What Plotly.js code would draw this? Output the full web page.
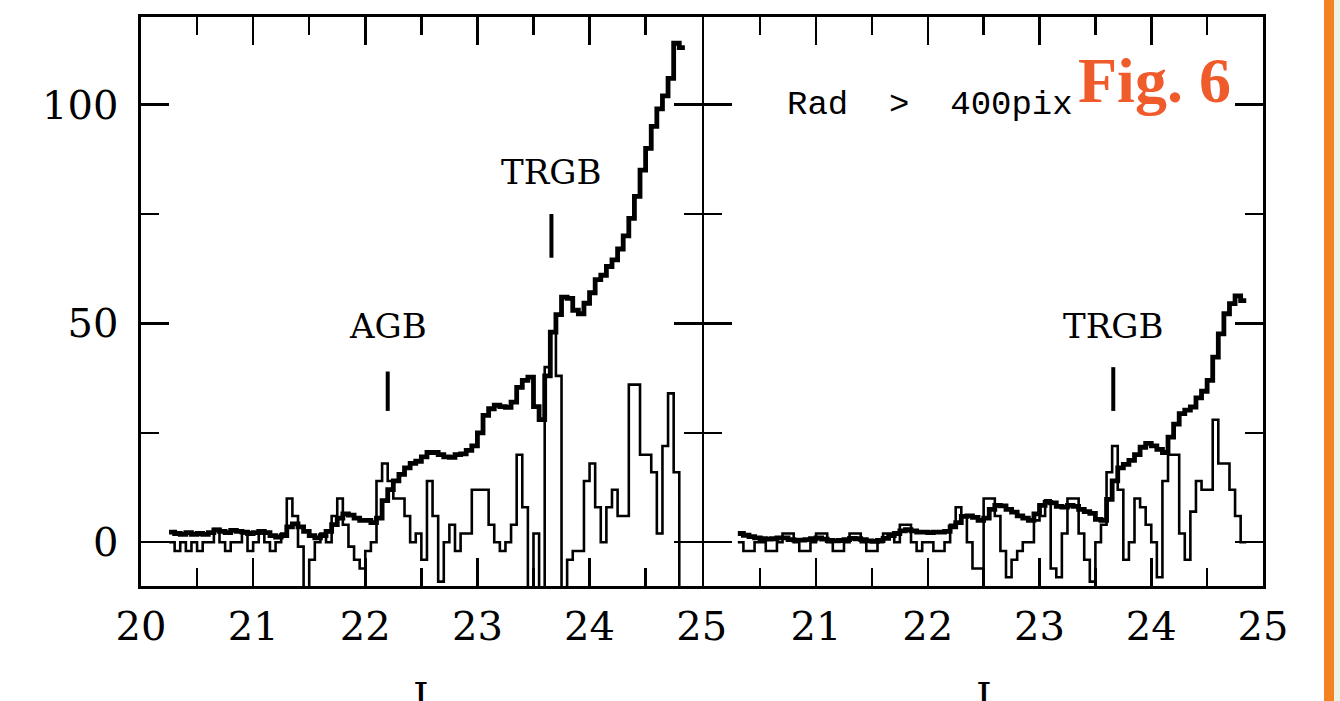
<!DOCTYPE html>
<html>
<head>
<meta charset="utf-8">
<script src="https://cdn.plot.ly/plotly-3.0.1.min.js"></script>
<style>
  html, body { margin: 0; padding: 0; background: #ffffff; }
  #chart { width: 1340px; height: 701px; }
</style>
</head>
<body>
<div id="chart"></div>
<script>
// ---------- DATA ----------
const binWidth = 0.05;

// Left panel (all stars)
const leftStart = 20.25;
const leftSmoothLF = [
  2.3, 2.0, 1.8, 2.2, 1.8, 2.0, 1.8, 2.2, 2.8, 2.5,
  2.2, 2.7, 2.5, 2.3, 2.0, 2.2, 2.5, 2.2, 1.5, 1.2,
  1.5, 3.5, 4.2, 3.5, 2.5, 1.5, 1.0, 1.5, 2.5, 4.0,
  5.5, 6.5, 6.2, 5.5, 5.0, 5.0, 4.5, 5.5, 9.5, 12.0,
  14.0, 15.5, 17.0, 18.0, 18.5, 19.5, 20.5, 20.5, 20.0, 19.5,
  19.4, 20.0, 20.2, 21.0, 22.0, 25.0, 29.0, 30.5, 31.3, 31.0,
  30.8, 32.0, 35.4, 37.0, 37.7, 31.0, 28.0, 38.0, 48.0, 52.0,
  56.0, 55.7, 53.0, 52.2, 54.6, 57.0, 60.0, 61.0, 63.0, 64.5,
  67.0, 70.0, 74.0, 79.0, 85.0, 90.0, 95.0, 99.0, 102.0, 106.0,
  114.0, 113.0
];
const leftEdgeResponse = [
  0, -2, 0, -2, 0, -2, 0, 0, 3, 0,
  -2, 0, 0, 2, -2, 0, 2, 0, -2, 0,
  2, 10, 6, -1, -12, -4, 0, 2, 0, 6,
  10, 4, -1, -4, -6, -2, 0, 14, 18, 14,
  10, 10, 6, 0, 2, -4, 14, 6, -9, 0,
  4, -2, 2, 2, 12, 12, 12, 4, 0, -2,
  0, 4, 20, 8, -12, 2, -12, 40, 48, 38,
  -12, -4, -2, -2, 14, 18, 8, 0, 8, 12,
  6, 6, 36, 36, 20, 20, 16, 2, 22, 34,
  16, -12
];

// Right panel (Rad > 400pix)
const rightStart = 20.30;
const rightSmoothLF = [
  2.0, 1.6, 1.3, 1.0, 0.8, 0.7, 0.8, 1.0, 1.0, 0.6,
  0.5, 0.5, 0.6, 0.8, 1.0, 0.7, 0.4, 0.3, 0.4, 0.6,
  0.9, 0.8, 0.6, 0.3, 0.2, 0.4, 0.9, 1.5, 2.0, 2.6,
  2.9, 2.6, 2.3, 2.3, 2.2, 2.3, 2.3, 2.5, 3.5, 4.5,
  5.9, 6.0, 5.7, 5.0, 5.5, 7.5, 8.4, 8.3, 7.5, 6.9,
  6.0, 5.5, 5.0, 6.5, 8.4, 9.1, 9.0, 8.2, 8.0, 8.4,
  8.2, 7.5, 7.0, 6.6, 5.2, 5.0, 9.8, 14.0, 17.0, 17.8,
  18.7, 20.0, 21.7, 22.6, 22.0, 21.2, 20.5, 24.0, 27.0, 29.4,
  30.2, 30.9, 33.0, 34.5, 37.0, 42.3, 47.6, 52.2, 54.5, 56.3,
  55.2
];
const rightEdgeResponse = [
  0, -2, -2, 0, 0, -2, -2, 0, 2, 2,
  0, -2, -2, 0, 2, 2, 0, -2, -2, 0,
  2, 2, 0, -2, -2, 0, 2, 2, 0, 4,
  4, 0, -2, 0, 0, -2, -2, 0, 4, 8,
  6, 0, -6, -6, 10, 10, 6, -2, -8, -4,
  -2, 0, 0, 5, 6, 9.6, -6, -8, 2, 10,
  10, 2, -4, -9, 0, 4, 16, 22, 12, -4,
  0, 10, 8, 4, 0, -8, 14, 20, 20, 2,
  -4, 7, 14, 12, 12, 28, 18, 18, 12, 6,
  0
];

// Marked features
const featureLabels = ["AGB", "TRGB", "TRGB"];
const featurePanels = ["x", "x", "x2"];
const featureMags = [22.2, 23.66, 23.66];
const featureBarLow = [30, 65, 30];
const featureBarHigh = [39, 75, 40];
const featureLabelY = [49.3, 84.7, 49.3];

const xTickLeft = [20, 21, 22, 23, 24, 25];
const xTickRight = [21, 22, 23, 24, 25];
const yTicks = [0, 50, 100];
const panelNote = "Rad > 400pix";
const figLabel = "Fig. 6";
const xTitle = "I";

// ---------- helpers ----------
function edges(start, vals) {
  const xs = [], ys = [];
  for (let i = 0; i < vals.length; i++) { xs.push(start + i * binWidth); ys.push(vals[i]); }
  xs.push(start + vals.length * binWidth); ys.push(vals[vals.length - 1]);
  return {xs, ys};
}
const lt = edges(leftStart, leftEdgeResponse);
const lk = edges(leftStart, leftSmoothLF);
const rt = edges(rightStart, rightEdgeResponse);
const rk = edges(rightStart, rightSmoothLF);

const thin = {color: "#000", width: 2.6, shape: "hv"};
const thick = {color: "#000", width: 4.8, shape: "hv"};

const data = [
  {x: lt.xs, y: lt.ys, mode: "lines", line: thin, xaxis: "x", yaxis: "y", hoverinfo: "skip"},
  {x: lk.xs, y: lk.ys, mode: "lines", line: thick, xaxis: "x", yaxis: "y", hoverinfo: "skip"},
  {x: rt.xs, y: rt.ys, mode: "lines", line: thin, xaxis: "x2", yaxis: "y2", hoverinfo: "skip"},
  {x: rk.xs, y: rk.ys, mode: "lines", line: thick, xaxis: "x2", yaxis: "y2", hoverinfo: "skip"}
];

const tickFont = {family: "DejaVu Serif", size: 40, color: "#000"};
const annFont = {family: "DejaVu Serif", size: 34, color: "#000"};
const LW = 2.6;

function xAxis(domain, tickvals, anchor) {
  return {
    domain: domain, range: [20, 25], anchor: anchor,
    tickmode: "array", tickvals: tickvals,
    ticks: "inside", ticklen: 28, tickwidth: 2.5, tickcolor: "#000",
    minor: {tickmode: "linear", tick0: 20, dtick: 0.5, ticks: "inside", ticklen: 18, tickwidth: 2.5, tickcolor: "#000"},
    showline: true, linewidth: LW, linecolor: "#000", mirror: "ticks",
    showgrid: false, zeroline: false, tickfont: tickFont, ticklabelstandoff: 3
  };
}
function yAxis(anchor, labels) {
  return {
    domain: [0, 1], range: [-10, 120], anchor: anchor,
    tickmode: "array", tickvals: yTicks, showticklabels: labels,
    ticks: "inside", ticklen: 28, tickwidth: 2.5, tickcolor: "#000",
    minor: {tickmode: "linear", tick0: 0, dtick: 25, ticks: "inside", ticklen: 18, tickwidth: 2.5, tickcolor: "#000"},
    showline: true, linewidth: LW, linecolor: "#000", mirror: "ticks",
    showgrid: false, zeroline: false, tickfont: tickFont, ticklabelstandoff: 12
  };
}

const splitL = (562 - LW / 2) / 1122;
const splitR = (562 + LW / 2) / 1122;

const shapes = [];
const annotations = [];
for (let i = 0; i < featureLabels.length; i++) {
  const yr = featurePanels[i] === "x" ? "y" : "y2";
  shapes.push({type: "line", xref: featurePanels[i], yref: yr,
    x0: featureMags[i], x1: featureMags[i], y0: featureBarLow[i], y1: featureBarHigh[i],
    line: {color: "#000", width: 4}});
  annotations.push({xref: featurePanels[i], yref: yr, x: featureMags[i], y: featureLabelY[i],
    text: featureLabels[i], showarrow: false, font: annFont, xanchor: "center", yanchor: "middle"});
}
annotations.push({xref: "x2", yref: "y2", x: 20.72, y: 100, text: panelNote.replace(/ /g, "\u00a0\u00a0"),
  showarrow: false, xanchor: "left", yanchor: "middle",
  font: {family: "Liberation Mono", size: 34, color: "#000"}});
annotations.push({xref: "paper", yref: "paper", x: 0.9037, y: 0.889, text: "<b>" + figLabel + "</b>",
  showarrow: false, xanchor: "center", yanchor: "middle",
  font: {family: "Liberation Serif", size: 64, color: "#EF5B2B"}});
annotations.push({xref: "x domain", yref: "paper", x: 0.5, y: -0.152, text: xTitle, showarrow: false,
  xanchor: "center", yanchor: "top", font: {family: "DejaVu Serif", size: 40, color: "#000"}});
annotations.push({xref: "x2 domain", yref: "paper", x: 0.5, y: -0.152, text: xTitle, showarrow: false,
  xanchor: "center", yanchor: "top", font: {family: "DejaVu Serif", size: 40, color: "#000"}});

// orange page bar at the right edge
shapes.push({type: "rect", xref: "paper", yref: "paper", x0: (1324 - 141) / 1122, x1: (1334 - 141) / 1122,
  y0: -0.3, y1: 1.1, line: {width: 0}, fillcolor: "#F58220", layer: "above"});
shapes.push({type: "rect", xref: "paper", yref: "paper", x0: (1334 - 141) / 1122, x1: (1341 - 141) / 1122,
  y0: -0.3, y1: 1.1, line: {width: 0}, fillcolor: "#EEF2E4", layer: "above"});

const layout = {
  width: 1340, height: 701,
  margin: {l: 141, r: 77, t: 17, b: 115},
  paper_bgcolor: "#ffffff", plot_bgcolor: "#ffffff",
  showlegend: false,
  xaxis: xAxis([0, splitL], xTickLeft, "y"),
  xaxis2: xAxis([splitR, 1], xTickRight, "y2"),
  yaxis: yAxis("x", true),
  yaxis2: yAxis("x2", false),
  shapes: shapes,
  annotations: annotations
};

Plotly.newPlot("chart", data, layout, {staticPlot: true, displayModeBar: false});
</script>
</body>
</html>
